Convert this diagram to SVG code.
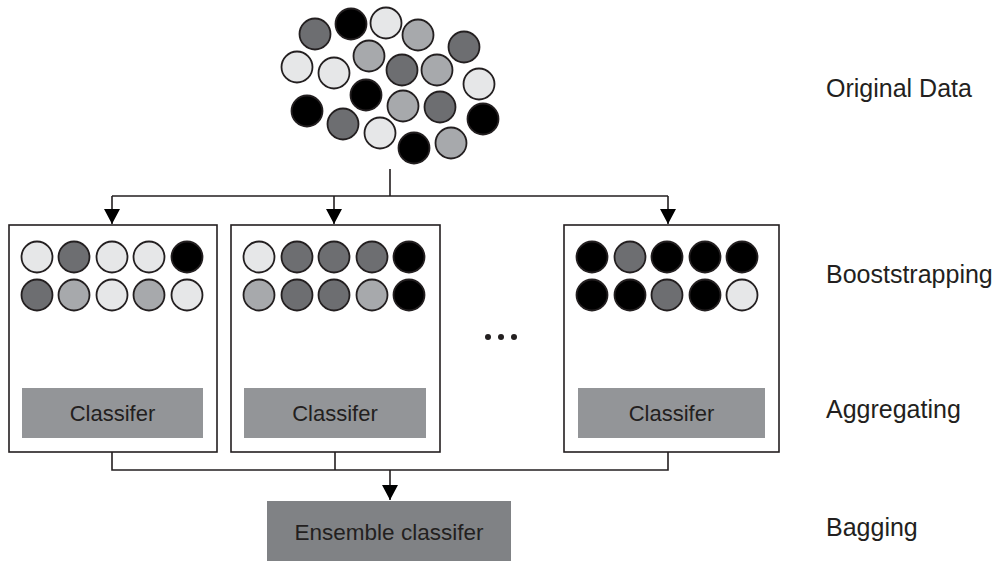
<svg xmlns="http://www.w3.org/2000/svg" width="1007" height="562" viewBox="0 0 1007 562">
  <style>
    .c { stroke: #231f20; stroke-width: 1.8; }
    .L { fill: #e6e7e8; }
    .M { fill: #a7a9ac; }
    .D { fill: #6d6e71; }
    .B { fill: #000000; }
    .box { fill: #ffffff; stroke: #231f20; stroke-width: 1.6; }
    .clf { fill: #939598; }
    .ens { fill: #808285; }
    .t { font-family: "Liberation Sans", Arial, sans-serif; fill: #231f20; }
    .lbl { font-size: 25px; }
    .ct { font-size: 22px; text-anchor: middle; }
    .ce { font-size: 22.5px; text-anchor: middle; }
    .conn { fill: none; stroke: #231f20; stroke-width: 1.6; }
  </style>
  <defs>
    <marker id="arr" markerUnits="userSpaceOnUse" markerWidth="15" markerHeight="16" refX="15" refY="8" orient="auto" viewBox="0 0 15 16">
      <path d="M0,0 L15,8 L0,16 Z" fill="#000"/>
    </marker>
  </defs>
  <rect width="1007" height="562" fill="#ffffff"/>

  <g id="original-data">
    <circle class="c D" cx="315" cy="34" r="15.5"/>
    <circle class="c B" cx="351" cy="24" r="15.5"/>
    <circle class="c L" cx="386" cy="23" r="15.5"/>
    <circle class="c M" cx="418" cy="35" r="15.5"/>
    <circle class="c D" cx="464" cy="47" r="15.5"/>
    <circle class="c L" cx="297" cy="67" r="15.5"/>
    <circle class="c L" cx="334" cy="73" r="15.5"/>
    <circle class="c M" cx="369" cy="56" r="15.5"/>
    <circle class="c D" cx="402" cy="70" r="15.5"/>
    <circle class="c M" cx="437" cy="70" r="15.5"/>
    <circle class="c L" cx="479" cy="84" r="15.5"/>
    <circle class="c B" cx="366" cy="95" r="15.5"/>
    <circle class="c B" cx="307" cy="111" r="15.5"/>
    <circle class="c M" cx="403" cy="106" r="15.5"/>
    <circle class="c D" cx="440" cy="107" r="15.5"/>
    <circle class="c B" cx="483" cy="119" r="15.5"/>
    <circle class="c D" cx="343" cy="124" r="15.5"/>
    <circle class="c L" cx="380" cy="133" r="15.5"/>
    <circle class="c B" cx="414" cy="148" r="15.5"/>
    <circle class="c M" cx="451" cy="143" r="15.5"/>
  </g>

  <g id="connectors">
    <path class="conn" d="M390,169 V196 M112,196 H668"/>
    <path class="conn" d="M112,196 V224" marker-end="url(#arr)"/>
    <path class="conn" d="M334,196 V224" marker-end="url(#arr)"/>
    <path class="conn" d="M668,196 V224" marker-end="url(#arr)"/>
    <path class="conn" d="M112,438 V470 H668 V438 M335,438 V470"/>
    <path class="conn" d="M390,470 V500" marker-end="url(#arr)"/>
  </g>

  <g id="bag1">
    <rect class="box" x="9" y="225" width="208" height="227"/>
    <circle class="c L" cx="37" cy="257" r="15.5"/>
    <circle class="c D" cx="74" cy="257" r="15.5"/>
    <circle class="c L" cx="112" cy="257" r="15.5"/>
    <circle class="c L" cx="149" cy="257" r="15.5"/>
    <circle class="c B" cx="187" cy="257" r="15.5"/>
    <circle class="c D" cx="37" cy="295" r="15.5"/>
    <circle class="c M" cx="74" cy="295" r="15.5"/>
    <circle class="c L" cx="112" cy="295" r="15.5"/>
    <circle class="c M" cx="149" cy="295" r="15.5"/>
    <circle class="c L" cx="187" cy="295" r="15.5"/>
    <rect class="clf" x="22" y="388" width="181" height="50"/>
    <text class="t ct" x="112.5" y="421">Classifer</text>
  </g>

  <g id="bag2">
    <rect class="box" x="231" y="225" width="209" height="227"/>
    <circle class="c L" cx="259" cy="257" r="15.5"/>
    <circle class="c D" cx="297" cy="257" r="15.5"/>
    <circle class="c D" cx="334" cy="257" r="15.5"/>
    <circle class="c D" cx="372" cy="257" r="15.5"/>
    <circle class="c B" cx="409" cy="257" r="15.5"/>
    <circle class="c M" cx="259" cy="295" r="15.5"/>
    <circle class="c D" cx="297" cy="295" r="15.5"/>
    <circle class="c D" cx="334" cy="295" r="15.5"/>
    <circle class="c M" cx="372" cy="295" r="15.5"/>
    <circle class="c B" cx="409" cy="295" r="15.5"/>
    <rect class="clf" x="244" y="388" width="182" height="50"/>
    <text class="t ct" x="335" y="421">Classifer</text>
  </g>

  <g id="ellipsis">
    <circle cx="488" cy="337" r="3" fill="#231f20"/>
    <circle cx="501" cy="337" r="3" fill="#231f20"/>
    <circle cx="514" cy="337" r="3" fill="#231f20"/>
  </g>

  <g id="bag3">
    <rect class="box" x="564" y="225" width="215" height="227"/>
    <circle class="c B" cx="592" cy="257" r="15.5"/>
    <circle class="c D" cx="630" cy="257" r="15.5"/>
    <circle class="c B" cx="667" cy="257" r="15.5"/>
    <circle class="c B" cx="705" cy="257" r="15.5"/>
    <circle class="c B" cx="742" cy="257" r="15.5"/>
    <circle class="c B" cx="592" cy="295" r="15.5"/>
    <circle class="c B" cx="630" cy="295" r="15.5"/>
    <circle class="c D" cx="667" cy="295" r="15.5"/>
    <circle class="c B" cx="705" cy="295" r="15.5"/>
    <circle class="c L" cx="742" cy="295" r="15.5"/>
    <rect class="clf" x="578" y="388" width="187" height="50"/>
    <text class="t ct" x="671.5" y="421">Classifer</text>
  </g>

  <g id="ensemble">
    <rect class="ens" x="267" y="501" width="244" height="60"/>
    <text class="t ce" x="389" y="540">Ensemble classifer</text>
  </g>

  <g id="labels">
    <text class="t lbl" x="826" y="97">Original Data</text>
    <text class="t lbl" x="826" y="283">Booststrapping</text>
    <text class="t lbl" x="826" y="418">Aggregating</text>
    <text class="t lbl" x="826" y="536">Bagging</text>
  </g>
</svg>
